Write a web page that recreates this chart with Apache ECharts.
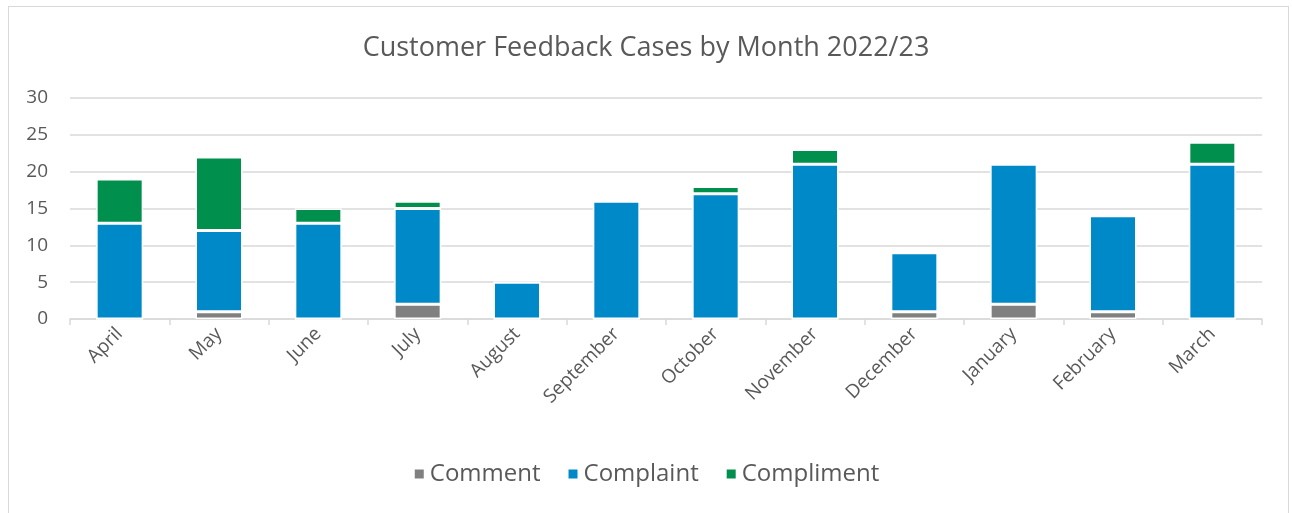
<!DOCTYPE html>
<html>
<head>
<meta charset="utf-8" />
<title>Customer Feedback Cases</title>
<script type="text/javascript" src="https://cdn.jsdelivr.net/npm/echarts@6/dist/echarts.min.js"></script>
<style>
  body { margin: 0; background: #fff; }
  #frame { position: absolute; left: 8px; top: 6px; width: 1279px; height: 520px; border: 1px solid #d9d9d9; }
  #main { position: absolute; left: 0; top: 0; width: 1292px; height: 513px; }
</style>
</head>
<body>
<div id="frame"></div>
<div id="main"></div>
<script type="text/javascript">
var months = ['April', 'May', 'June', 'July', 'August', 'September', 'October', 'November', 'December', 'January', 'February', 'March'];
var comment = [0, 1, 0, 2, 0, 0, 0, 0, 1, 2, 1, 0];
var complaint = [13, 11, 13, 13, 5, 16, 17, 21, 8, 19, 13, 21];
var compliment = [6, 10, 2, 1, 0, 0, 1, 2, 0, 0, 0, 3];
var yTicks = [0, 5, 10, 15, 20, 25, 30];

var txt = '#595959';
var font = 'Open Sans';

function barSeries(name, data, color) {
    return {
        name: name,
        type: 'bar',
        stack: 'total',
        data: data,
        barWidth: 47,
        itemStyle: { color: color, borderColor: '#fff', borderWidth: 1.5 }
    };
}

var myChart = echarts.init(document.getElementById('main'));
myChart.setOption({
    animation: false,
    title: {
        text: 'Customer Feedback Cases by Month 2022/23',
        left: 'center',
        top: 30,
        textStyle: { color: txt, fontSize: 27, fontWeight: 'normal', fontFamily: font }
    },
    legend: {
        data: ['Comment', 'Complaint', 'Compliment'],
        bottom: 22,
        left: 'center',
        icon: 'rect',
        itemWidth: 11,
        itemHeight: 11,
        itemGap: 26,
        textStyle: { color: txt, fontSize: 24, fontFamily: font }
    },
    grid: { left: 70, right: 30, top: 98, bottom: 194 },
    xAxis: {
        type: 'category',
        data: months,
        axisLine: { lineStyle: { color: '#d9d9d9', width: 1.5 } },
        axisTick: { show: true, length: 6, lineStyle: { color: '#d9d9d9', width: 1.5 } },
        axisLabel: { color: txt, fontSize: 19, fontFamily: font, rotate: 45, margin: 12, interval: 0 }
    },
    yAxis: {
        type: 'value',
        min: yTicks[0],
        max: yTicks[yTicks.length - 1],
        interval: 5,
        axisLine: { show: false },
        axisTick: { show: false },
        axisLabel: { color: txt, fontSize: 19, fontFamily: font, margin: 22 },
        splitLine: { lineStyle: { color: '#d9d9d9', width: 1.5 } }
    },
    series: [
        barSeries('Comment', comment, '#808080'),
        barSeries('Complaint', complaint, '#0089C8'),
        barSeries('Compliment', compliment, '#008F4C')
    ]
});
</script>
</body>
</html>
